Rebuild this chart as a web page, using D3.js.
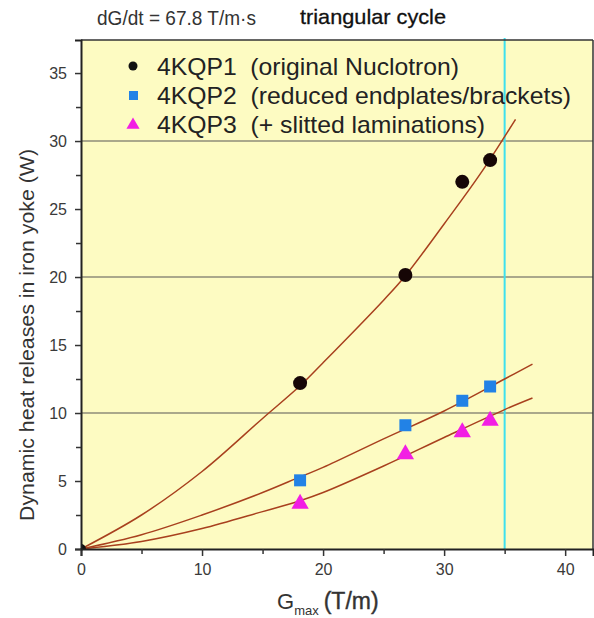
<!DOCTYPE html>
<html><head><meta charset="utf-8">
<script src="https://cdn.jsdelivr.net/npm/d3@7"></script>
<style>body{margin:0;background:#fff}svg{display:block;font-family:"Liberation Sans",Arial,sans-serif}</style>
</head><body>
<svg id="c" width="594" height="618"></svg>
<script>
// ---- data ----
const seriesNames = ["4KQP1  (original Nuclotron)", "4KQP2  (reduced endplates/brackets)", "4KQP3  (+ slitted laminations)"];
const gmax = [18.1, 26.8, 31.5, 33.8];
const p1 = [12.2, 20.15, 27.0, 28.6];
const p2 = [5.05, 9.1, 10.9, 11.95];
const p3 = [3.4, 7.05, 8.65, 9.5];
// fitted curves
const fit1x = [0, 5, 10, 15, 18.1, 20, 25, 26.8, 30, 33, 35.9];
const fit1y = [0, 2.5, 5.7, 9.6, 12.0, 13.7, 18.3, 20.1, 23.9, 27.6, 31.6];
const fit2x = [0, 5, 10, 15, 18.1, 20, 25, 30, 35, 37.3];
const fit2y = [0, 1.05, 2.5, 4.15, 5.3, 6.0, 8.1, 10.15, 12.5, 13.6];
const fit3x = [0, 5, 10, 15, 18.1, 20, 25, 30, 35, 37.3];
const fit3y = [0, 0.55, 1.5, 2.75, 3.55, 4.15, 6.1, 8.2, 10.25, 11.1];
const xTicks = [0, 10, 20, 30, 40];
const xMinor = [5, 15, 25, 35];
const yTicks = [0, 5, 10, 15, 20, 25, 30, 35];
const yMinor = [2.5, 7.5, 12.5, 17.5, 22.5, 27.5, 32.5];
const gridY = [10, 20, 30];
const markerLineX = 35;

// ---- layout ----
const svg = d3.select("#c");
const L = 81, R = 593, T = 40, B = 549;
const x = d3.scaleLinear().domain([0, 42.3]).range([L, R]);
const y = d3.scaleLinear().domain([0, 37.43]).range([B, T]);

svg.append("rect").attr("x", L).attr("y", T).attr("width", R - L).attr("height", B - T).attr("fill", "#fdfbc2");
svg.append("defs").append("clipPath").attr("id", "clip").append("rect")
  .attr("x", L).attr("y", T).attr("width", R - L).attr("height", B - T);

// grid
svg.append("g").selectAll("line").data(gridY).join("line")
  .attr("x1", L).attr("x2", R).attr("y1", d => y(d)).attr("y2", d => y(d))
  .attr("stroke", "#8e8c78").attr("stroke-width", 1.6);

// cyan marker line
svg.append("line").attr("x1", x(markerLineX)).attr("x2", x(markerLineX)).attr("y1", T - 2).attr("y2", B)
  .attr("stroke", "#3ee0ee").attr("stroke-width", 2);

// fit curves
const plot = svg.append("g").attr("clip-path", "url(#clip)");
const line = d3.line().x(d => x(d[0])).y(d => y(d[1])).curve(d3.curveCatmullRom.alpha(0.5));
[[fit1x, fit1y], [fit2x, fit2y], [fit3x, fit3y]].forEach(([xs, ys]) => {
  plot.append("path").datum(xs.map((v, i) => [v, ys[i]])).attr("d", line)
    .attr("fill", "none").attr("stroke", "#a8401e").attr("stroke-width", 1.5);
});

// points
plot.append("circle").attr("cx", x(0)).attr("cy", y(0)).attr("r", 5).attr("fill", "#111");
plot.selectAll(".c1").data(gmax).join("circle")
  .attr("cx", d => x(d)).attr("cy", (d, i) => y(p1[i])).attr("r", 7).attr("fill", "#160606");
plot.selectAll(".s2").data(gmax).join("rect")
  .attr("x", d => x(d) - 6).attr("y", (d, i) => y(p2[i]) - 6).attr("width", 12).attr("height", 12).attr("fill", "#2282e6");
const tri = d3.symbol().type(d3.symbolTriangle).size(130);
plot.selectAll(".t3").data(gmax).join("path")
  .attr("d", tri).attr("transform", (d, i) => `translate(${x(d)},${y(p3[i]) + 1})`).attr("fill", "#f21ee4");

// axes
const ax = svg.append("g");
ax.append("line").attr("x1", L).attr("x2", R).attr("y1", T).attr("y2", T).attr("stroke", "#333").attr("stroke-width", 1.5);
ax.append("line").attr("x1", R).attr("x2", R).attr("y1", T).attr("y2", B).attr("stroke", "#333").attr("stroke-width", 1.5);
const xa = svg.append("g").attr("transform", `translate(0,${B})`)
  .call(d3.axisBottom(x).tickValues(xTicks).tickSize(7).tickPadding(8).tickFormat(d3.format("d")));
const xm = svg.append("g").attr("transform", `translate(0,${B})`)
  .call(d3.axisBottom(x).tickValues(xMinor).tickSize(5).tickFormat(""));
const ya = svg.append("g").attr("transform", `translate(${L},0)`)
  .call(d3.axisLeft(y).tickValues(yTicks).tickSize(6).tickPadding(8).tickFormat(d3.format("d")));
const ym = svg.append("g").attr("transform", `translate(${L},0)`)
  .call(d3.axisLeft(y).tickValues(yMinor).tickSize(5).tickFormat(""));
[xa, xm, ya, ym].forEach(g => {
  g.select(".domain").attr("stroke", "#222").attr("stroke-width", 2);
  g.selectAll(".tick line").attr("stroke", "#333").attr("stroke-width", 1.5);
  g.selectAll(".tick text").attr("font-size", 16).attr("fill", "#3a3a3a").attr("font-family", "Liberation Sans, Arial, sans-serif");
});
xm.select(".domain").remove(); ym.select(".domain").remove();

// titles
svg.append("text").attr("x", 97).attr("y", 25).attr("font-size", 20).attr("fill", "#333")
  .attr("textLength", 159).attr("lengthAdjust", "spacingAndGlyphs").text("dG/dt = 67.8 T/m·s");
svg.append("text").attr("x", 300).attr("y", 24).attr("font-size", 21).attr("fill", "#111")
  .attr("stroke", "#111").attr("stroke-width", 0.3)
  .attr("textLength", 146).attr("lengthAdjust", "spacingAndGlyphs").text("triangular cycle");

// y axis label
svg.append("text").attr("transform", "translate(34,335) rotate(-90)").attr("text-anchor", "middle")
  .attr("font-size", 20).attr("fill", "#333").attr("textLength", 372).attr("lengthAdjust", "spacingAndGlyphs")
  .text("Dynamic heat releases in iron yoke (W)");

// x axis label
const xl = svg.append("text").attr("x", 277).attr("y", 609).attr("fill", "#333");
xl.append("tspan").attr("font-size", 22).text("G");
xl.append("tspan").attr("font-size", 13).attr("dy", 6).text("max");
xl.append("tspan").attr("font-size", 23).attr("dy", -6).attr("dx", 5).attr("stroke", "#333").attr("stroke-width", 0.4).text("(T/m)");

// legend
const legY = [66, 95, 124];
const legW = [302, 414, 328];
const lg = svg.append("g");
lg.append("circle").attr("cx", 133).attr("cy", legY[0]).attr("r", 4.5).attr("fill", "#111");
lg.append("rect").attr("x", 129).attr("y", legY[1] - 4).attr("width", 9).attr("height", 9).attr("fill", "#2282e6");
lg.append("path").attr("d", d3.symbol().type(d3.symbolTriangle).size(75)).attr("transform", `translate(133,${legY[2] + 1})`).attr("fill", "#f21ee4");
lg.selectAll("text").data(seriesNames).join("text")
  .attr("x", 157).attr("y", (d, i) => legY[i] + 9).attr("font-size", 24).attr("fill", "#222")
  .attr("textLength", (d, i) => legW[i]).attr("lengthAdjust", "spacingAndGlyphs")
  .attr("xml:space", "preserve").style("white-space", "pre").text(d => d);
</script>
</body></html>
